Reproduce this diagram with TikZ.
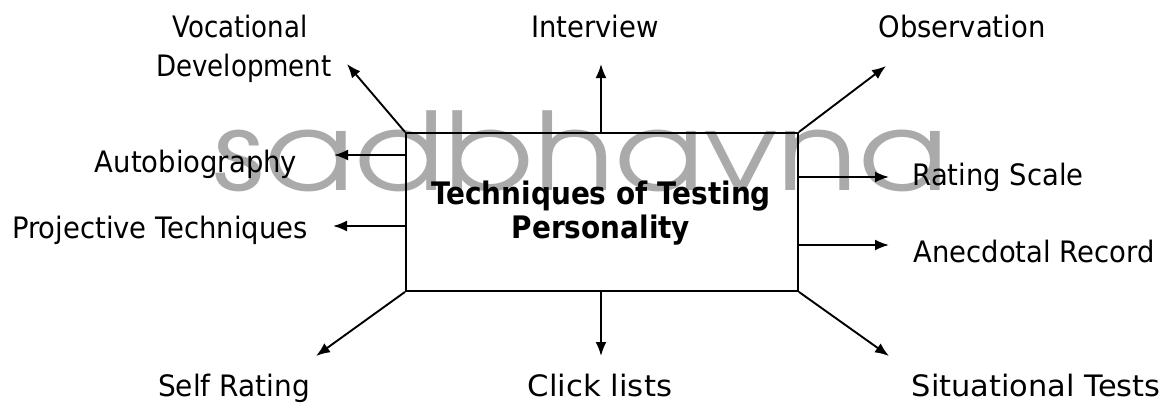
\documentclass[tikz,border=0pt]{standalone}
\usepackage{fontspec}
\usepackage{graphicx}
\setmainfont{DejaVu Sans}[FakeStretch=0.93]
\newfontfamily\markfont{TeX Gyre Adventor}
\usetikzlibrary{arrows.meta}
\definecolor{markgray}{RGB}{170,170,170}
% horizontal width adjustment for a single label
\newcommand{\wx}[2]{\scalebox{#1}[1]{#2}}
\begin{document}
\begin{tikzpicture}[x=1pt,y=-1pt,
  link/.style={line width=1.9pt,-{Latex[length=14pt,width=11pt]}},
  edge/.style={line width=1.9pt},
  lbl/.style={font=\fontsize{29.5}{39}\selectfont,inner sep=0pt,anchor=base},
  heading/.style={font=\bfseries\fontsize{31}{34}\selectfont,inner sep=0pt,align=center},
  watermark/.style={text=markgray,inner sep=0pt,anchor=base west}]
\useasboundingbox (0,0) rectangle (1166,407);

% faint logo lettering behind the diagram
\node[watermark] (logo) at (213,190)
  {\resizebox{735pt}{\height}{\markfont\fontsize{108}{108}\selectfont sadbhavna}};

% central box
\node[draw,edge,minimum width=392pt,minimum height=158pt,inner sep=0pt,anchor=north west]
  (core) at (405,132) {};
\node[heading] (title) at (601,213)
  {\wx{0.968}{Techniques of Testing}\\\wx{0.968}{Personality}};

% labels
\node[lbl] (voc) at (240,37) {\wx{0.95}{Vocational}};
\node[lbl] (dev) at (244,76) {\wx{0.95}{Development}};
\node[lbl] (int) at (595,37) {Interview};
\node[lbl] (obs) at (962,37) {Observation};
\node[lbl] (auto) at (196,172) {Autobiography};
\node[lbl] (proj) at (160,238) {Projective Techniques};
\node[lbl] (rate) at (998,185) {Rating Scale};
\node[lbl] (anec) at (1034,262) {Anecdotal Record};
\node[lbl] (self) at (234,396) {\wx{1.02}{Self Rating}};
\node[lbl] (click) at (600,396) {\wx{1.12}{Click lists}};
\node[lbl] (situ) at (1036,396) {\wx{1.11}{Situational Tests}};

% arrow tips
\coordinate (tvoc) at (347,64);
\coordinate (tint) at (601,64);
\coordinate (tobs) at (886,66);
\coordinate (tauto) at (334,155);
\coordinate (tproj) at (333,226);
\coordinate (trate) at (889,177);
\coordinate (tanec) at (889,245);
\coordinate (tself) at (316,356);
\coordinate (tclick) at (601,356);
\coordinate (tsitu) at (889,356);

% connectors
\draw[link] (core.north west) -- (tvoc);
\draw[link] (core.north -| tint) -- (tint);
\draw[link] (core.north east) -- (tobs);
\draw[link] (core.west |- tauto) -- (tauto);
\draw[link] (core.west |- tproj) -- (tproj);
\draw[link] (core.east |- trate) -- (trate);
\draw[link] (core.east |- tanec) -- (tanec);
\draw[link] (core.south west) -- (tself);
\draw[link] (core.south -| tclick) -- (tclick);
\draw[link] (core.south east) -- (tsitu);
\end{tikzpicture}
\end{document}
